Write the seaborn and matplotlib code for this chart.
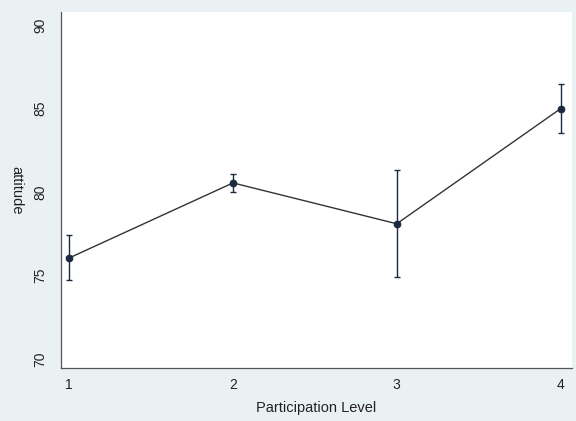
import numpy as np
import pandas as pd
import matplotlib
matplotlib.use("Agg")
import matplotlib.pyplot as plt
import seaborn as sns

# values
level = [1, 2, 3, 4]
attitude = [76.05, 80.55, 78.1, 85.0]
ci_low = [74.7, 80.0, 74.9, 83.55]
ci_high = [77.4, 81.1, 81.3, 86.5]

df = pd.DataFrame({"level": level, "attitude": attitude})

sns.set_style("white")
plt.rcParams["font.family"] = ["Liberation Sans", "DejaVu Sans"]

bg = "#eaf1f2"
navy = "#1a2a40"

fig = plt.figure(figsize=(5.76, 4.21), dpi=100, facecolor=bg)
ax = fig.add_axes([61 / 576, 1 - 368 / 421, 511 / 576, 356 / 421])
ax.set_facecolor("white")

sns.lineplot(data=df, x="level", y="attitude", ax=ax, color="#333333",
             linewidth=1.0, marker="o", markersize=4.8,
             markerfacecolor=navy, markeredgecolor=navy)
err = np.array([np.subtract(attitude, ci_low), np.subtract(ci_high, attitude)])
ax.errorbar(level, attitude, yerr=err, fmt="none", ecolor=navy,
            elinewidth=1.0, capsize=2.5, capthick=1.0)

ax.set_xlim(0.95, 4.07)
ax.set_ylim(69.45, 90.8)
ax.set_xticks(level)
ax.set_yticks([70, 75, 80, 85, 90])
for s in ["top", "right"]:
    ax.spines[s].set_visible(False)
for s in ["left", "bottom"]:
    ax.spines[s].set_color("#555555")
    ax.spines[s].set_linewidth(0.9)
ax.tick_params(axis="both", direction="out", length=4, width=0.8,
               color="#555555", labelsize=10, labelcolor="#222222")
ax.tick_params(axis="y", labelrotation=90, pad=6)
for lbl in ax.get_yticklabels():
    lbl.set_va("center")

ax.set_xlabel("Participation Level", fontsize=10.5, color="#222222", labelpad=6)
ax.set_ylabel("attitude", fontsize=10.5, color="#222222", rotation=-90,
              labelpad=12, va="center")

fig.savefig("out.png", dpi=100, facecolor=bg)
